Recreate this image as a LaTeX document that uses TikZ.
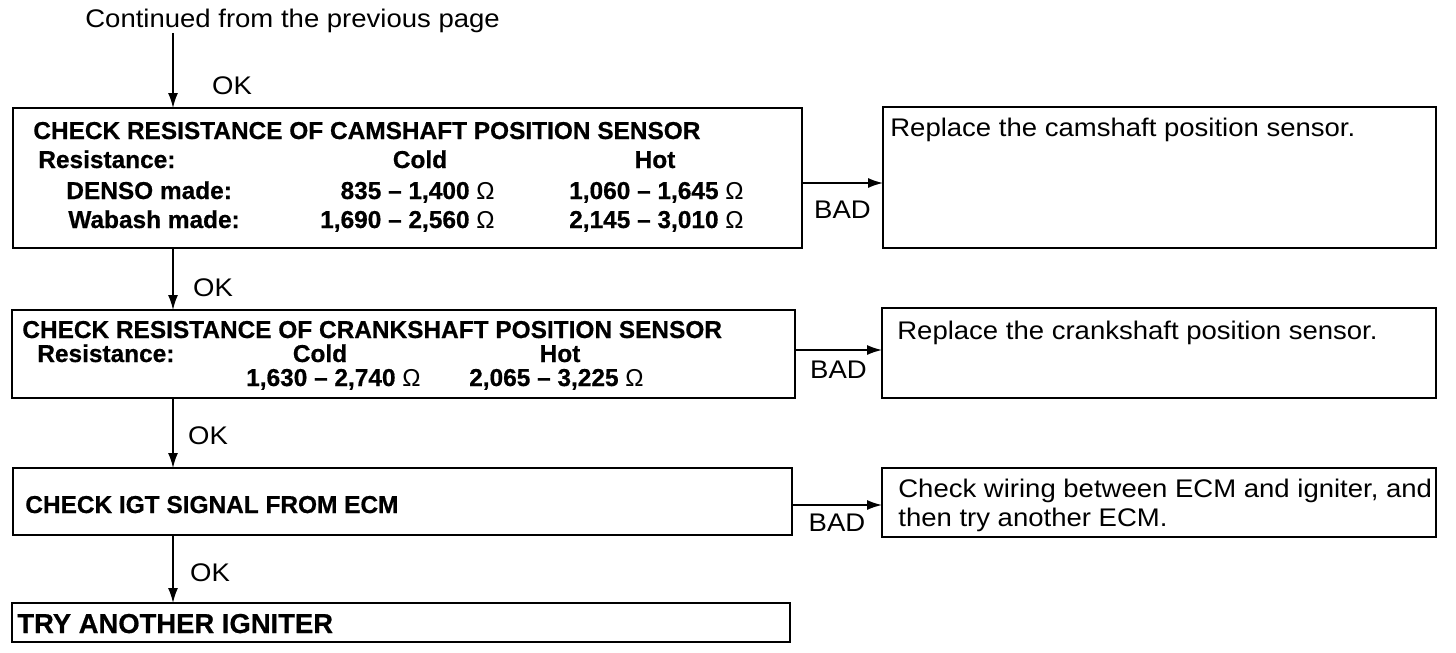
\documentclass[tikz,border=0pt]{standalone}
\usepackage{fontspec}
\setmainfont[FakeStretch=1.08]{Liberation Sans}
\newfontfamily\hdfont[BoldFeatures={FakeBold=0.6}]{Liberation Sans}
\usetikzlibrary{arrows.meta,positioning}
\newcommand{\ohms}{\textmd{Ω}}

\begin{document}
\begin{tikzpicture}[x=0.02cm, y=-0.02cm,
  b/.style={draw, line width=1.1pt, inner sep=0pt, outer sep=0pt},
  txt/.style={font=\fontsize{14.5}{17}\selectfont, inner sep=0pt, anchor=base west},
  hd/.style={font=\fontsize{13.9}{16}\selectfont\hdfont\bfseries, inner sep=0pt, anchor=base west},
  lbl/.style={font=\fontsize{14.5}{17}\selectfont, inner sep=0pt},
  arr/.style={-{Latex[length=3mm,width=2mm]}, line width=0.9pt}]
\useasboundingbox (0,0) rectangle (1456,652);
% boxes
\node[b, minimum width=15.78cm, minimum height=2.8cm] (cam) at (407.5,178) {};
\node[b, minimum width=11.06cm, minimum height=2.82cm] (camfix) at (1159.5,177.5) {};
\node[b, minimum width=15.66cm, minimum height=1.76cm] (crank) at (403.5,354) {};
\node[b, minimum width=11.08cm, minimum height=1.8cm] (crankfix) at (1159,353) {};
\node[b, minimum width=15.58cm, minimum height=1.34cm] (igt) at (402.5,501.5) {};
\node[b, minimum width=11.08cm, minimum height=1.38cm] (ecmfix) at (1159,502.5) {};
\node[b, minimum width=15.56cm, minimum height=0.78cm] (ign) at (401,622.5) {};
% texts
\node[txt] (cont) at (85,28) {Continued from the previous page};
\node[hd] (ttl1) at (33,139) {CHECK RESISTANCE OF CAMSHAFT POSITION SENSOR};
\node[hd] (res1) at (38,168) {Resistance:};
\node[hd, anchor=base] (cold1) at (420,168) {Cold};
\node[hd, anchor=base] (hot1) at (655,168) {Hot};
\node[hd] (denso) at (66,199) {DENSO made:};
\node[hd, anchor=base east] (dcold) at (495,199) {835 – 1,400 \ohms};
\node[hd, anchor=base east] (dhot) at (744,199) {1,060 – 1,645 \ohms};
\node[hd] (wab) at (68,228) {Wabash made:};
\node[hd, anchor=base east] (wcold) at (495,228) {1,690 – 2,560 \ohms};
\node[hd, anchor=base east] (whot) at (744,228) {2,145 – 3,010 \ohms};
\node[txt] (camtxt) at (890,136) {Replace the camshaft position sensor.};
\node[hd] (ttl2) at (22,338) {CHECK RESISTANCE OF CRANKSHAFT POSITION SENSOR};
\node[hd] (res2) at (37,362) {Resistance:};
\node[hd, anchor=base] (cold2) at (320,362) {Cold};
\node[hd, anchor=base] (hot2) at (560,362) {Hot};
\node[hd, anchor=base east] (ccold) at (421,386) {1,630 – 2,740 \ohms};
\node[hd, anchor=base east] (chot) at (644,386) {2,065 – 3,225 \ohms};
\node[txt] (cranktxt) at (897,339) {Replace the crankshaft position sensor.};
\node[hd] (ttl3) at (25,513) {CHECK IGT SIGNAL FROM ECM};
\node[txt] (ecmtxt1) at (898,497) {Check wiring between ECM and igniter, and};
\node[txt] (ecmtxt2) at (898,526) {then try another ECM.};
\node[hd, font=\fontsize{15.6}{18}\selectfont\hdfont\bfseries] (ttl4) at (17,633) {TRY ANOTHER IGNITER};
% arrows
\coordinate (top) at (173,33);
\draw[arr] (top) -- node[lbl, xshift=1.18cm, yshift=-0.31cm] {OK} (top |- cam.north);
\draw[arr] (cam.south -| top) -- node[lbl, xshift=0.8cm, yshift=-0.18cm] {OK} (crank.north -| top);
\draw[arr] (crank.south -| top) -- node[lbl, xshift=0.7cm, yshift=-0.06cm] {OK} (igt.north -| top);
\draw[arr] (igt.south -| top) -- node[lbl, xshift=0.74cm, yshift=-0.08cm] {OK} (ign.north -| top);
\draw[arr] ([yshift=-0.1cm]cam.east) -- node[lbl, yshift=-0.54cm] {BAD} ([yshift=-0.1cm]cam.east -| camfix.west);
\draw[arr] ([yshift=0.08cm]crank.east) -- node[lbl, yshift=-0.4cm] {BAD} ([yshift=0.08cm]crank.east -| crankfix.west);
\draw[arr] ([yshift=-0.07cm]igt.east) -- node[lbl, yshift=-0.36cm] {BAD} ([yshift=-0.07cm]igt.east -| ecmfix.west);
\end{tikzpicture}
\end{document}
